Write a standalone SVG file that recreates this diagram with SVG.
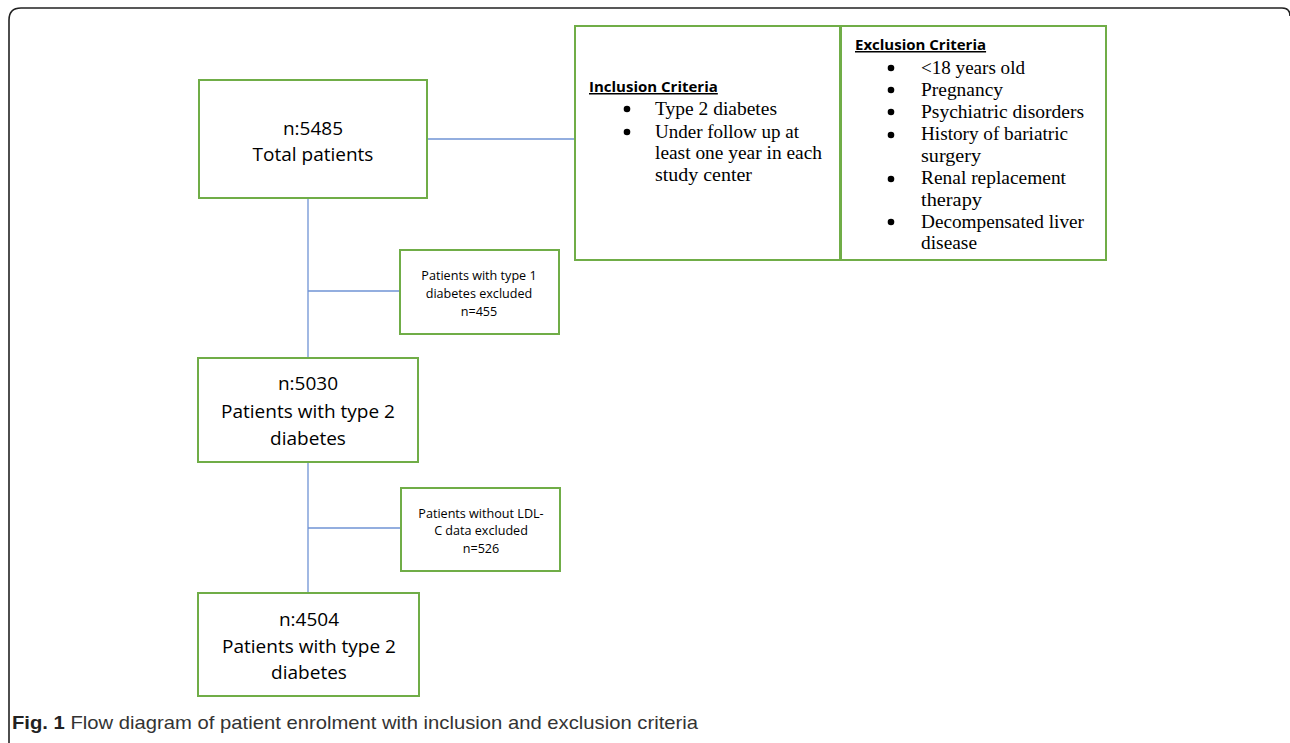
<svg xmlns="http://www.w3.org/2000/svg" width="1290" height="743" viewBox="0 0 1290 743">
<style>
.box{fill:#fff;stroke:#70ad47;stroke-width:2}
.conn{stroke:#6f93d4;stroke-width:1.3;fill:none}
.big{font-family:"Open Sans","Liberation Sans",sans-serif;font-size:19px;fill:#000;text-anchor:middle}
.small{font-family:"Open Sans","Liberation Sans",sans-serif;font-size:12.6px;fill:#000;text-anchor:middle}
.crit{font-family:"Liberation Serif","DejaVu Serif",serif;font-size:18px;fill:#000}
.bul{fill:#000}
.head{font-family:"Open Sans","Liberation Sans",sans-serif;font-size:15px;font-weight:bold;fill:#000;text-decoration:underline}
.cap{font-family:"Liberation Sans","Noto Sans",sans-serif;font-size:19px;fill:#333}
</style>
<rect x="0" y="0" width="1290" height="743" fill="#fff"/>
<path d="M9,760 L9,20 Q9,8 21,8 L1282,8 Q1290,8 1290,16" fill="none" stroke="#222" stroke-width="1.6"/>
<g id="connectors">
<line class="conn" x1="427" y1="139" x2="575" y2="139"/>
<line class="conn" x1="308" y1="198" x2="308" y2="358"/>
<line class="conn" x1="308" y1="291" x2="400" y2="291"/>
<line class="conn" x1="308" y1="462" x2="308" y2="593"/>
<line class="conn" x1="308" y1="528" x2="401" y2="528"/>
</g>
<g id="total">
<rect class="box" x="199" y="80" width="228" height="118"/>
<text class="big" x="313" y="135">n:5485</text>
<text class="big" x="313" y="161">Total patients</text>
</g>
<g id="inclusion">
<rect class="box" x="575" y="26" width="265" height="234"/>
<text class="head" x="589" y="92">Inclusion Criteria</text>
<circle class="bul" cx="627" cy="109" r="3.3"/>
<circle class="bul" cx="627" cy="132" r="3.3"/>
<g class="crit">
<text x="655" y="115" textLength="122" lengthAdjust="spacingAndGlyphs">Type 2 diabetes</text>
<text x="655" y="138" textLength="144" lengthAdjust="spacingAndGlyphs">Under follow up at</text>
<text x="655" y="159" textLength="167" lengthAdjust="spacingAndGlyphs">least one year in each</text>
<text x="655" y="181" textLength="97" lengthAdjust="spacingAndGlyphs">study center</text>
</g>
</g>
<g id="exclusion">
<rect class="box" x="841" y="26" width="265" height="234"/>
<text class="head" x="855" y="50">Exclusion Criteria</text>
<circle class="bul" cx="891" cy="68" r="3.3"/>
<circle class="bul" cx="891" cy="90" r="3.3"/>
<circle class="bul" cx="891" cy="112" r="3.3"/>
<circle class="bul" cx="891" cy="135" r="3.3"/>
<circle class="bul" cx="891" cy="179" r="3.3"/>
<circle class="bul" cx="891" cy="222" r="3.3"/>
<g class="crit">
<text x="921" y="74" textLength="104" lengthAdjust="spacingAndGlyphs">&lt;18 years old</text>
<text x="921" y="96" textLength="82" lengthAdjust="spacingAndGlyphs">Pregnancy</text>
<text x="921" y="118" textLength="163" lengthAdjust="spacingAndGlyphs">Psychiatric disorders</text>
<text x="921" y="140" textLength="147" lengthAdjust="spacingAndGlyphs">History of bariatric</text>
<text x="921" y="162" textLength="60" lengthAdjust="spacingAndGlyphs">surgery</text>
<text x="921" y="184" textLength="145" lengthAdjust="spacingAndGlyphs">Renal replacement</text>
<text x="921" y="206" textLength="61" lengthAdjust="spacingAndGlyphs">therapy</text>
<text x="921" y="228" textLength="163" lengthAdjust="spacingAndGlyphs">Decompensated liver</text>
<text x="921" y="249" textLength="56" lengthAdjust="spacingAndGlyphs">disease</text>
</g>
</g>
<g id="excl1">
<rect class="box" x="400" y="250" width="159" height="84"/>
<text class="small" x="479" y="280">Patients with type 1</text>
<text class="small" x="479" y="298">diabetes excluded</text>
<text class="small" x="479" y="316">n=455</text>
</g>
<g id="t2a">
<rect class="box" x="198" y="358" width="220" height="104"/>
<text class="big" x="308" y="390">n:5030</text>
<text class="big" x="308" y="418">Patients with type 2</text>
<text class="big" x="308" y="445">diabetes</text>
</g>
<g id="excl2">
<rect class="box" x="401" y="488" width="159" height="83"/>
<text class="small" x="481" y="518">Patients without LDL-</text>
<text class="small" x="481" y="535">C data excluded</text>
<text class="small" x="481" y="553">n=526</text>
</g>
<g id="t2b">
<rect class="box" x="198" y="593" width="221" height="103"/>
<text class="big" x="309" y="626">n:4504</text>
<text class="big" x="309" y="653">Patients with type 2</text>
<text class="big" x="309" y="679">diabetes</text>
</g>
<text class="cap" x="12" y="729" textLength="686" lengthAdjust="spacingAndGlyphs"><tspan font-weight="bold" fill="#222">Fig. 1</tspan> Flow diagram of patient enrolment with inclusion and exclusion criteria</text>
</svg>
